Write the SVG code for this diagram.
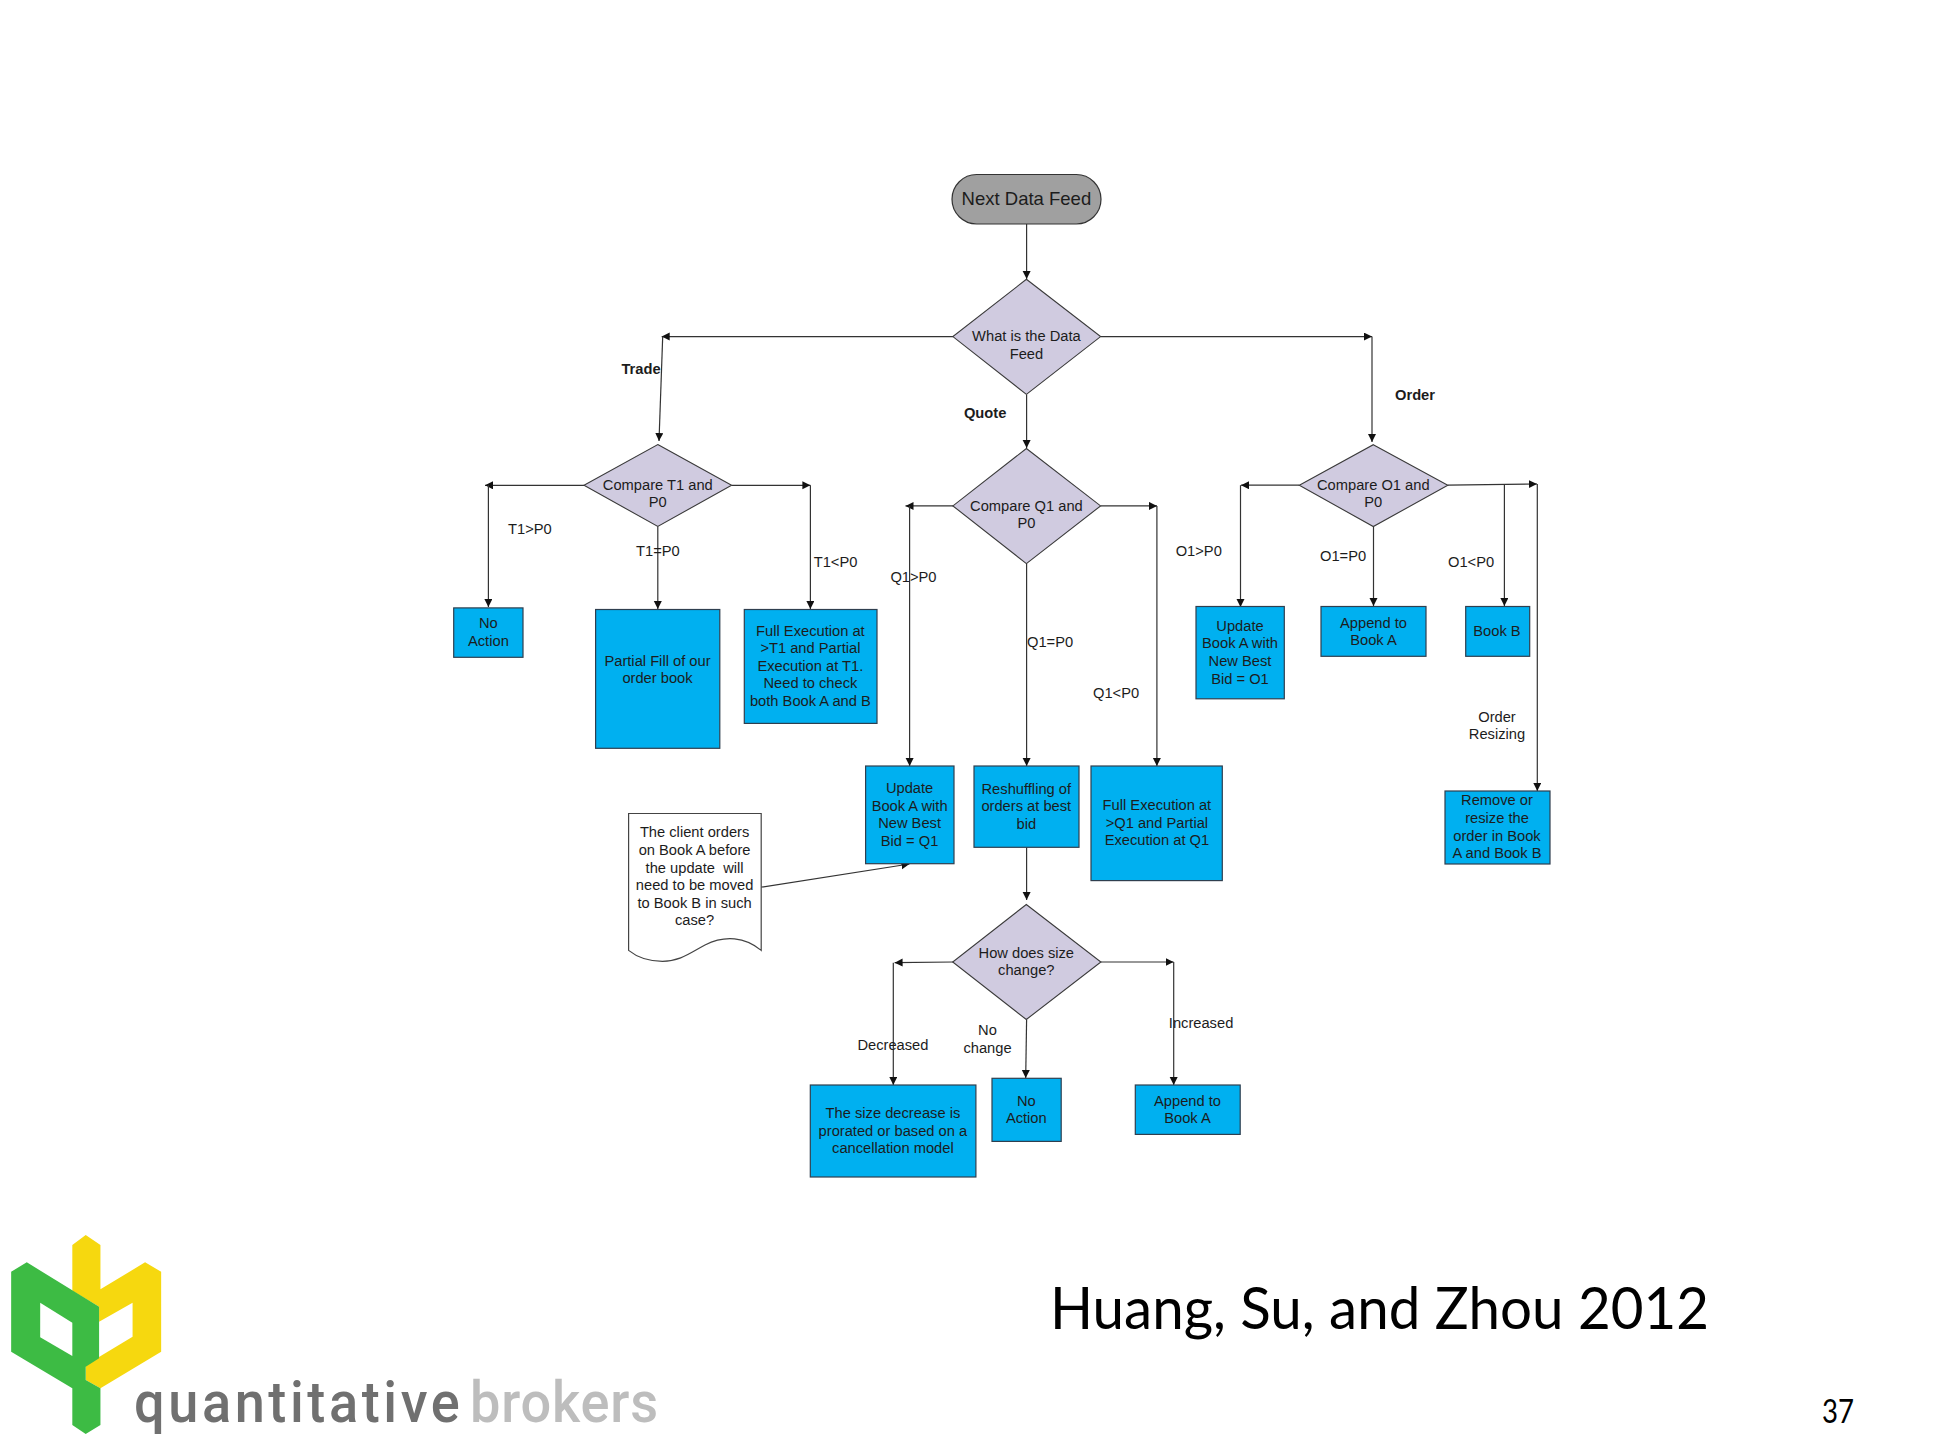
<svg xmlns="http://www.w3.org/2000/svg" width="1933" height="1450" viewBox="0 0 1933 1450">
<style>
text{font-family:"Liberation Sans",Arial,sans-serif;font-size:14.7px;fill:#1c1c1c;dominant-baseline:central}
.c{text-anchor:middle}
.b{font-weight:bold}
.box{fill:#00b0f0;stroke:#2f3f4f;stroke-width:1.2}
.dec{fill:#d0cbe0;stroke:#3a3a3a;stroke-width:1.1}
.lines path{fill:none;stroke:#333;stroke-width:1.2}
.t{font-family:Lato,"Liberation Sans",sans-serif;fill:#000;dominant-baseline:auto}
.logo{font-family:Roboto,"Liberation Sans",sans-serif;font-size:57px;font-weight:500;dominant-baseline:auto}
.q{fill:#707070}
.k{fill:#bdbdbd}
</style>
<defs>
<marker id="a" markerUnits="userSpaceOnUse" markerWidth="9" markerHeight="9" refX="8" refY="4" orient="auto"><path d="M0 0L8 4L0 8Z" fill="#111"/></marker>
</defs>
<rect width="1933" height="1450" fill="#fff"/>
<g id="connectors" class="lines">
<path marker-end="url(#a)" d="M1026.6 224V279"/>
<path marker-end="url(#a)" d="M953 336.6H661.7"/>
<path marker-end="url(#a)" d="M662.7 336.6L659 441"/>
<path marker-end="url(#a)" d="M1100.6 336.6H1372"/>
<path marker-end="url(#a)" d="M1372 336.6V442"/>
<path marker-end="url(#a)" d="M1026.6 394.4V448"/>
<path marker-end="url(#a)" d="M584 485.3H485"/>
<path marker-end="url(#a)" d="M488.4 485.3V607"/>
<path marker-end="url(#a)" d="M657.8 526.4V609"/>
<path marker-end="url(#a)" d="M731.6 485.3H810.4"/>
<path marker-end="url(#a)" d="M810.4 485.3V609"/>
<path marker-end="url(#a)" d="M953 505.9H905.5"/>
<path marker-end="url(#a)" d="M909.6 505.9V766"/>
<path marker-end="url(#a)" d="M1026.6 563.6V766"/>
<path marker-end="url(#a)" d="M1100.6 505.9H1157"/>
<path marker-end="url(#a)" d="M1156.9 505.9V766"/>
<path marker-end="url(#a)" d="M1299.3 485.2H1241"/>
<path marker-end="url(#a)" d="M1240.5 485.2V607"/>
<path marker-end="url(#a)" d="M1373.5 526.6V606"/>
<path marker-end="url(#a)" d="M1447.8 485.2L1537 484"/>
<path marker-end="url(#a)" d="M1504.4 484.5V606"/>
<path marker-end="url(#a)" d="M1537.3 484V791"/>
<path marker-end="url(#a)" d="M761.2 887.2L909.4 864"/>
<path marker-end="url(#a)" d="M1026.6 847.3V900"/>
<path marker-end="url(#a)" d="M953.7 962L894.6 962.7"/>
<path marker-end="url(#a)" d="M893.3 962.7V1085"/>
<path marker-end="url(#a)" d="M1026.6 1019.5L1025.7 1078"/>
<path marker-end="url(#a)" d="M1100.9 962H1173.5"/>
<path marker-end="url(#a)" d="M1173.7 962V1085"/>
</g>
<g id="start"><rect x="952" y="174.5" width="149" height="49.5" rx="24.7" fill="#a0a0a0" stroke="#333" stroke-width="1.2"/><text class="c" x="1026.4" y="198" style="font-size:18.5px">Next Data Feed</text></g>
<g id="d-feed"><polygon class="dec" points="1026.4,279.3 1100.6,336.6 1026.4,394.4 952.9,336.6"/><text class="c"><tspan x="1026.4" y="335.8">What is the Data</tspan><tspan x="1026.4" y="354">Feed</tspan></text></g>
<g id="d-trade"><polygon class="dec" points="657.8,444.6 731.6,485.3 657.8,526.4 584,485.3"/><text class="c"><tspan x="657.8" y="485.3">Compare T1 and</tspan><tspan x="657.8" y="502">P0</tspan></text></g>
<g id="d-quote"><polygon class="dec" points="1026.4,448.5 1100.6,505.9 1026.4,563.6 952.9,505.9"/><text class="c"><tspan x="1026.4" y="505.9">Compare Q1 and</tspan><tspan x="1026.4" y="522.9">P0</tspan></text></g>
<g id="d-order"><polygon class="dec" points="1373.3,444.7 1447.8,485.2 1373.3,526.6 1299.3,485.2"/><text class="c"><tspan x="1373.3" y="485.2">Compare O1 and</tspan><tspan x="1373.3" y="501.7">P0</tspan></text></g>
<g id="d-size"><polygon class="dec" points="1026.3,904.5 1100.9,962 1026.3,1019.5 952.7,962"/><text class="c"><tspan x="1026.3" y="953.4">How does size</tspan><tspan x="1026.3" y="970.3">change?</tspan></text></g>
<g id="n-noaction1"><rect class="box" x="453.7" y="607.9" width="69.3" height="49.4"/><text class="c"><tspan x="488.4" y="623.3">No</tspan><tspan x="488.4" y="641">Action</tspan></text></g>
<g id="n-partial"><rect class="box" x="595.6" y="609.5" width="124.2" height="138.8"/><text class="c"><tspan x="657.5" y="661.3">Partial Fill of our</tspan><tspan x="657.5" y="677.9">order book</tspan></text></g>
<g id="n-fullT"><rect class="box" x="744.3" y="609.5" width="132.7" height="113.9"/><text class="c"><tspan x="810.4" y="630.8">Full Execution at</tspan><tspan x="810.4" y="648.2">&gt;T1 and Partial</tspan><tspan x="810.4" y="666">Execution at T1.</tspan><tspan x="810.4" y="683.4">Need to check</tspan><tspan x="810.4" y="700.8">both Book A and B</tspan></text></g>
<g id="n-updateQ"><rect class="box" x="865.6" y="766" width="88.4" height="97.7"/><text class="c"><tspan x="909.6" y="788.2">Update</tspan><tspan x="909.6" y="805.8">Book A with</tspan><tspan x="909.6" y="823">New Best</tspan><tspan x="909.6" y="840.7">Bid = Q1</tspan></text></g>
<g id="n-reshuffle"><rect class="box" x="974" y="766" width="105" height="81.3"/><text class="c"><tspan x="1026.3" y="788.5">Reshuffling of</tspan><tspan x="1026.3" y="806">orders at best</tspan><tspan x="1026.3" y="824">bid</tspan></text></g>
<g id="n-fullQ"><rect class="box" x="1091" y="766" width="131.3" height="114.6"/><text class="c"><tspan x="1156.9" y="805">Full Execution at</tspan><tspan x="1156.9" y="822.5">&gt;Q1 and Partial</tspan><tspan x="1156.9" y="839.7">Execution at Q1</tspan></text></g>
<g id="n-updateO"><rect class="box" x="1196" y="606.5" width="88.3" height="92.3"/><text class="c"><tspan x="1240" y="626">Update</tspan><tspan x="1240" y="643.3">Book A with</tspan><tspan x="1240" y="660.9">New Best</tspan><tspan x="1240" y="678.9">Bid = O1</tspan></text></g>
<g id="n-appendO"><rect class="box" x="1321" y="606.5" width="105" height="49.8"/><text class="c"><tspan x="1373.5" y="622.6">Append to</tspan><tspan x="1373.5" y="639.8">Book A</tspan></text></g>
<g id="n-bookB"><rect class="box" x="1465.7" y="606.5" width="64" height="49.8"/><text class="c" x="1497" y="631">Book B</text></g>
<g id="n-remove"><rect class="box" x="1445" y="791" width="105" height="73"/><text class="c"><tspan x="1497" y="800.2">Remove or</tspan><tspan x="1497" y="818.2">resize the</tspan><tspan x="1497" y="836.2">order in Book</tspan><tspan x="1497" y="853.4">A and Book B</tspan></text></g>
<g id="n-doc"><path d="M628.6 813.5H761.2V950.4C745 937 725 935 705 945C690 953 680 961.3 662.5 961.3C650 961.3 638 958 628.6 950.4Z" fill="#fff" stroke="#444" stroke-width="1.2"/><text class="c"><tspan x="694.6" y="831.8">The client orders</tspan><tspan x="694.6" y="849.7">on Book A before</tspan><tspan x="694.6" y="867.6" xml:space="preserve">the update  will</tspan><tspan x="694.6" y="884.6">need to be moved</tspan><tspan x="694.6" y="902.5">to Book B in such</tspan><tspan x="694.6" y="919.5">case?</tspan></text></g>
<g id="n-sizedec"><rect class="box" x="810.3" y="1085" width="165.6" height="92"/><text class="c"><tspan x="892.9" y="1112.8">The size decrease is</tspan><tspan x="892.9" y="1130.8">prorated or based on a</tspan><tspan x="892.9" y="1147.7">cancellation model</tspan></text></g>
<g id="n-noaction2"><rect class="box" x="992" y="1078.3" width="69.2" height="63.1"/><text class="c"><tspan x="1026.3" y="1100.9">No</tspan><tspan x="1026.3" y="1118">Action</tspan></text></g>
<g id="n-appendS"><rect class="box" x="1135.3" y="1085" width="104.9" height="49.4"/><text class="c"><tspan x="1187.5" y="1100.9">Append to</tspan><tspan x="1187.5" y="1118">Book A</tspan></text></g>
<g id="labels">
<text class="b" x="621.4" y="369">Trade</text>
<text class="b" x="963.9" y="413">Quote</text>
<text class="b" x="1395" y="395">Order</text>
<text x="508" y="528.8">T1&gt;P0</text>
<text x="636" y="551">T1=P0</text>
<text x="813.7" y="562">T1&lt;P0</text>
<text x="890.4" y="577">Q1&gt;P0</text>
<text x="1027" y="641.8">Q1=P0</text>
<text x="1093" y="693">Q1&lt;P0</text>
<text x="1175.7" y="550.7">O1&gt;P0</text>
<text x="1320" y="555.6">O1=P0</text>
<text x="1448" y="562">O1&lt;P0</text>
<text class="c"><tspan x="1497" y="717">Order</tspan><tspan x="1497" y="734.4">Resizing</tspan></text>
<text class="c" x="892.9" y="1045">Decreased</text>
<text class="c"><tspan x="987.5" y="1030">No</tspan><tspan x="987.5" y="1048.4">change</tspan></text>
<text x="1168.8" y="1023">Increased</text>
</g>
<g id="logo">
<g transform="translate(0 1230) scale(.4464 .3333)">
<polygon fill="#f6d80f" points="162,45 192,15 225,45 225,178 325,97 361,125 361,365 225,475 192,450 192,405 297,320 297,218 222,275 222,230 162,182"/>
<polygon fill="#3dbb44" points="25,125 60,97 222,230 222,385 192,410 192,450 225,475 225,585 192,612 162,585 162,475 25,365"/>
<path fill="#fff" d="M90 218L162 278V378L90 322Z"/>
</g>
<text class="logo q" transform="translate(134 1421.7) scale(.95 1)" textLength="343" lengthAdjust="spacing">quantitative</text>
<text class="logo k" transform="translate(470 1421.7) scale(.95 1)" textLength="198" lengthAdjust="spacing">brokers</text>
</g>
<text class="t" x="1050" y="1329" style="font-size:59px" textLength="659" lengthAdjust="spacingAndGlyphs">Huang, Su, and Zhou 2012</text>
<text class="t" x="1822" y="1423" style="font-size:33px" textLength="32" lengthAdjust="spacingAndGlyphs">37</text>
</svg>
